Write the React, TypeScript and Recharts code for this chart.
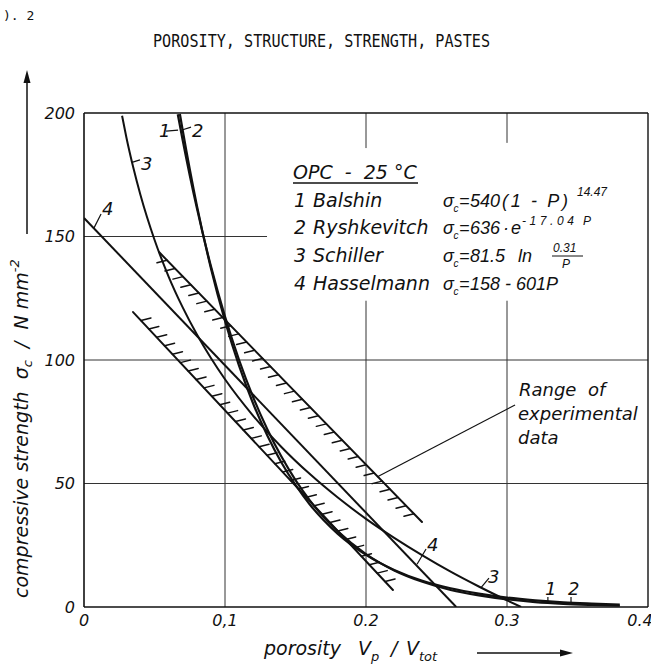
import React from 'react';
import {
  ComposedChart,
  Line,
  XAxis,
  YAxis,
  ReferenceLine,
  ReferenceDot
} from 'recharts';

// axis ticks
const xTicks = [0, 0.1, 0.2, 0.3, 0.4];
const xTickLabels = ['0', '0,1', '0.2', '0.3', '0.4'];
const yTicks = [0, 50, 100, 150, 200];

// curve 1 - Balshin (porosity P, strength N/mm2)
const balshin = [
  { x: 0.0665, y: 199.5 }, { x: 0.07, y: 189.0 }, { x: 0.08, y: 161.6 }, { x: 0.09, y: 138.0 },
  { x: 0.1, y: 117.6 }, { x: 0.11, y: 100.0 }, { x: 0.12, y: 84.9 }, { x: 0.13, y: 72.0 },
  { x: 0.14, y: 60.9 }, { x: 0.15, y: 51.4 }, { x: 0.16, y: 43.3 }, { x: 0.17, y: 36.4 },
  { x: 0.18, y: 30.6 }, { x: 0.2, y: 21.4 }, { x: 0.22, y: 14.8 }, { x: 0.24, y: 10.2 },
  { x: 0.26, y: 6.9 }, { x: 0.28, y: 4.7 }, { x: 0.3, y: 3.1 }, { x: 0.32, y: 2.0 },
  { x: 0.34, y: 1.3 }, { x: 0.36, y: 0.85 }, { x: 0.38, y: 0.5 },
];

// curve 2 - Ryshkevitch
const ryshkevitch = [
  { x: 0.068, y: 199.6 }, { x: 0.07, y: 193.0 }, { x: 0.08, y: 162.7 }, { x: 0.09, y: 137.2 },
  { x: 0.1, y: 115.8 }, { x: 0.11, y: 97.6 }, { x: 0.12, y: 82.3 }, { x: 0.13, y: 69.4 },
  { x: 0.14, y: 58.5 }, { x: 0.15, y: 49.4 }, { x: 0.16, y: 41.6 }, { x: 0.17, y: 35.1 },
  { x: 0.18, y: 29.6 }, { x: 0.2, y: 21.1 }, { x: 0.22, y: 15.0 }, { x: 0.24, y: 10.6 },
  { x: 0.26, y: 7.6 }, { x: 0.28, y: 5.4 }, { x: 0.3, y: 3.8 }, { x: 0.32, y: 2.7 },
  { x: 0.34, y: 1.9 }, { x: 0.36, y: 1.4 }, { x: 0.38, y: 1.0 },
];

// curve 3 - Schiller
const schiller = [
  { x: 0.027, y: 198.9 }, { x: 0.03, y: 190.3 }, { x: 0.035, y: 177.8 }, { x: 0.04, y: 166.9 },
  { x: 0.05, y: 148.7 }, { x: 0.06, y: 133.8 }, { x: 0.07, y: 121.3 }, { x: 0.08, y: 110.4 },
  { x: 0.09, y: 100.8 }, { x: 0.1, y: 92.2 }, { x: 0.12, y: 77.4 }, { x: 0.14, y: 64.8 },
  { x: 0.16, y: 53.9 }, { x: 0.18, y: 44.3 }, { x: 0.2, y: 35.7 }, { x: 0.22, y: 28.0 },
  { x: 0.24, y: 20.9 }, { x: 0.26, y: 14.3 }, { x: 0.28, y: 8.3 }, { x: 0.3, y: 2.7 },
  { x: 0.31, y: 0 },
];

// curve 4 - Hasselmann (straight line)
const hasselmann = [{ x: 0, y: 157.5 }, { x: 0.264, y: 0 }];

// range of experimental data (two hatched bounds)
const bandUpper = [{ x: 0.0532, y: 143.7 }, { x: 0.2397, y: 34.4 }];
const bandLower = [{ x: 0.0348, y: 119.4 }, { x: 0.2191, y: 6.9 }];

// curve number labels: text position and leader line
const curveLabels = [
  { text: '1', at: { x: 0.0532, y: 190.3 }, lead: [{ x: 0.0582, y: 192.7 }, { x: 0.0667, y: 193.1 }] },
  { text: '2', at: { x: 0.0766, y: 190.3 }, lead: [{ x: 0.0695, y: 193.1 }, { x: 0.0759, y: 194.3 }] },
  { text: '3', at: { x: 0.0404, y: 176.9 }, lead: [{ x: 0.034, y: 180.0 }, { x: 0.0397, y: 181.0 }] },
  { text: '4', at: { x: 0.0128, y: 158.7 }, lead: [{ x: 0.0071, y: 153.5 }, { x: 0.0121, y: 159.1 }] },
  { text: '4', at: { x: 0.2433, y: 22.7 }, lead: [{ x: 0.2362, y: 17.3 }, { x: 0.2426, y: 23.5 }] },
  { text: '3', at: { x: 0.2865, y: 9.7 }, lead: [{ x: 0.2816, y: 7.8 }, { x: 0.2872, y: 11.7 }] },
  { text: '1', at: { x: 0.327, y: 4.9 }, lead: [{ x: 0.329, y: 4.0 }, { x: 0.329, y: 1.6 }] },
  { text: '2', at: { x: 0.3433, y: 4.9 }, lead: [{ x: 0.3454, y: 4.0 }, { x: 0.3454, y: 1.6 }] },
];
const rangeLeader = [{ x: 0.2078, y: 52.6 }, { x: 0.3057, y: 81.8 }];

const INK = '#111';
const GRID = '#333';
const italic = { fontFamily: '"DejaVu Sans", sans-serif', fontStyle: 'italic' as const };
const pre = { whiteSpace: 'pre' as const };

// draws a bound line with short hatch strokes on one side
const hatched = (dx: number, dy: number) => (props: any) => {
  const { x1, y1, x2, y2 } = props;
  const len = Math.hypot(x2 - x1, y2 - y1);
  const n = Math.max(2, Math.round(len / 11.5));
  const marks = [];
  for (let i = 1; i < n; i++) {
    const px = x1 + ((x2 - x1) * i) / n;
    const py = y1 + ((y2 - y1) * i) / n;
    marks.push(<line key={i} x1={px} y1={py} x2={px + dx} y2={py + dy} strokeWidth={1.5} />);
  }
  return (
    <g stroke={INK} strokeLinecap="round">
      <line x1={x1} y1={y1} x2={x2} y2={y2} strokeWidth={2} />
      {marks}
    </g>
  );
};

const XTick = (p: any) => {
  const v = p.payload.value;
  const last = v === 0.4;
  return (
    <text x={p.x} y={p.y + 12} dx={last ? -8 : 0} textAnchor="middle" fontSize={16} fill={INK} {...italic}>
      {xTickLabels[xTicks.indexOf(v)] ?? ''}
    </text>
  );
};

const YTick = (p: any) => (
  <text x={p.x} y={p.y + 5.5} textAnchor="end" fontSize={16} fill={INK} {...italic}>
    {p.payload.value}
  </text>
);

// sigma with subscript c, then '=' sign
const Sigma = ({ y }: { y: number }) => (
  <>
    <text x={443} y={y}>σ</text>
    <text x={453.5} y={y + 5} fontSize={10}>c</text>
    <text x={459} y={y}>=</text>
  </>
);

const Overlay = () => (
  <svg
    width={651}
    height={666}
    style={{ position: 'absolute', left: 0, top: 0, pointerEvents: 'none' }}
  >
    <text x={3} y={20} fontSize={13} fontFamily="DejaVu Sans Mono" fill={INK}>). 2</text>
    <text
      x={153}
      y={47}
      fontSize={17}
      fontFamily='"DejaVu Sans Mono", monospace'
      textLength={337}
      lengthAdjust="spacingAndGlyphs"
      fill={INK}
    >
      POROSITY, STRUCTURE, STRENGTH, PASTES
    </text>

    {/* y axis title */}
    <g transform="translate(28,598) rotate(-90)" {...italic} fontSize={19} fill={INK}>
      <text x={0} y={0} style={pre}>
        {'compressive strength  σ'}<tspan fontSize={13} dy={4}>c</tspan>
        <tspan dy={-4}>{'  /  N mm'}</tspan>
        <tspan fontSize={13} dy={-9}>-2</tspan>
      </text>
    </g>
    <line x1={27} y1={234} x2={27} y2={80} stroke={INK} strokeWidth={1.5} />
    <polygon points="27,70 23.5,83 30.5,83" fill={INK} />

    {/* x axis title */}
    <g {...italic} fontSize={19} fill={INK}>
      <text x={264} y={655}>porosity</text>
      <text x={358} y={655}>V</text>
      <text x={371} y={661} fontSize={13}>p</text>
      <text x={391} y={655}>/</text>
      <text x={406} y={655}>V</text>
      <text x={419} y={661} fontSize={13}>tot</text>
    </g>
    <line x1={477} y1={653} x2={562} y2={653} stroke={INK} strokeWidth={1.5} />
    <polygon points="573,653 560,649.5 560,656.5" fill={INK} />

    {/* legend block */}
    <g {...italic} fontSize={19} fill={INK}>
      <text x={293} y={179} style={pre}>{'OPC  -  25 °C'}</text>
      <line x1={293} y1={183} x2={418} y2={183} stroke={INK} strokeWidth={1.3} />
      <text x={294} y={207}>1</text>
      <text x={313} y={207}>Balshin</text>
      <text x={294} y={234}>2</text>
      <text x={313} y={234}>Ryshkevitch</text>
      <text x={294} y={262}>3</text>
      <text x={313} y={262}>Schiller</text>
      <text x={294} y={290}>4</text>
      <text x={313} y={290}>Hasselmann</text>
    </g>
    <g fontFamily='"Liberation Sans", Arial, sans-serif' fontStyle="italic" fontSize={18} fill={INK}>
      <Sigma y={207} />
      <text x={470} y={207}>540</text>
      <text x={502} y={207} style={pre} textLength={66} lengthAdjust="spacing">{'(1 - P)'}</text>
      <text x={577} y={196} fontSize={12}>14.47</text>

      <Sigma y={234} />
      <text x={470} y={234}>636</text>
      <text x={503} y={234}>·</text>
      <text x={511} y={234}>e</text>
      <text x={522} y={225} fontSize={12} textLength={52} lengthAdjust="spacing">-17.04</text>
      <text x={583} y={225} fontSize={12}>P</text>

      <Sigma y={262} />
      <text x={470} y={262}>81.5</text>
      <text x={518} y={262}>ln</text>
      <text x={553} y={252} fontSize={12}>0.31</text>
      <line x1={552} y1={256} x2={583} y2={256} stroke={INK} strokeWidth={1} />
      <text x={562} y={268} fontSize={12}>P</text>

      <Sigma y={290} />
      <text x={470} y={290} style={pre}>{'158 - 601P'}</text>
    </g>

    {/* range label */}
    <g {...italic} fontSize={18} fill={INK}>
      <text x={519} y={396} style={pre}>{'Range  of'}</text>
      <text x={518} y={420}>experimental</text>
      <text x={518} y={444}>data</text>
    </g>
  </svg>
);

export default function App() {
  return (
    <div style={{ position: 'absolute', left: 0, top: 0, width: 651, height: 666, background: '#fff' }}>
      <ComposedChart
        width={651}
        height={666}
        margin={{ top: 113, right: 3, bottom: 29, left: 24 }}
      >
        <XAxis
          dataKey="x"
          type="number"
          domain={[0, 0.4]}
          ticks={xTicks}
          interval={0}
          allowDataOverflow
          height={30}
          tickSize={0}
          tickMargin={7}
          tick={<XTick />}
          axisLine={{ stroke: INK, strokeWidth: 1.6 }}
        />
        <YAxis
          dataKey="y"
          type="number"
          domain={[0, 200]}
          ticks={yTicks}
          interval={0}
          allowDataOverflow
          width={60}
          tickSize={0}
          tickMargin={9}
          tick={<YTick />}
          axisLine={{ stroke: INK, strokeWidth: 1.6 }}
        />

        {/* grid and frame */}
        <ReferenceLine y={50} stroke={GRID} strokeWidth={1} />
        <ReferenceLine y={100} stroke={GRID} strokeWidth={1} />
        <ReferenceLine segment={[{ x: 0, y: 150 }, { x: 0.1298, y: 150 }]} stroke={GRID} strokeWidth={1} />
        <ReferenceLine x={0.1} stroke={GRID} strokeWidth={1} />
        <ReferenceLine segment={[{ x: 0.2, y: 200 }, { x: 0.2, y: 185.8 }]} stroke={GRID} strokeWidth={1} />
        <ReferenceLine segment={[{ x: 0.2, y: 124 }, { x: 0.2, y: 0 }]} stroke={GRID} strokeWidth={1} />
        <ReferenceLine segment={[{ x: 0.3, y: 200 }, { x: 0.3, y: 187.9 }]} stroke={GRID} strokeWidth={1} />
        <ReferenceLine segment={[{ x: 0.3, y: 124 }, { x: 0.3, y: 0 }]} stroke={GRID} strokeWidth={1} />
        <ReferenceLine y={200} stroke={INK} strokeWidth={1.6} />
        <ReferenceLine x={0.4} stroke={INK} strokeWidth={1.4} />

        {/* experimental range */}
        <ReferenceLine segment={bandUpper} shape={hatched(-10, 2.5)} />
        <ReferenceLine segment={bandLower} shape={hatched(10, -2.5)} />
        <ReferenceLine segment={rangeLeader} stroke={INK} strokeWidth={1.2} />

        <Line data={hasselmann} dataKey="y" type="linear" stroke={INK} strokeWidth={2} dot={false} isAnimationActive={false} />
        <Line data={schiller} dataKey="y" type="monotone" stroke={INK} strokeWidth={2} dot={false} isAnimationActive={false} />
        <Line data={ryshkevitch} dataKey="y" type="monotone" stroke={INK} strokeWidth={2.2} dot={false} isAnimationActive={false} />
        <Line data={balshin} dataKey="y" type="monotone" stroke={INK} strokeWidth={2.2} dot={false} isAnimationActive={false} />

        {curveLabels.map((c, i) => (
          <ReferenceLine key={`l${i}`} segment={c.lead} stroke={INK} strokeWidth={1.2} />
        ))}
        {curveLabels.map((c, i) => (
          <ReferenceDot
            key={`t${i}`}
            x={c.at.x}
            y={c.at.y}
            shape={(p: any) => (
              <text x={p.cx} y={p.cy} fontSize={18} fill={INK} {...italic}>
                {c.text}
              </text>
            )}
          />
        ))}
      </ComposedChart>
      <Overlay />
    </div>
  );
}
